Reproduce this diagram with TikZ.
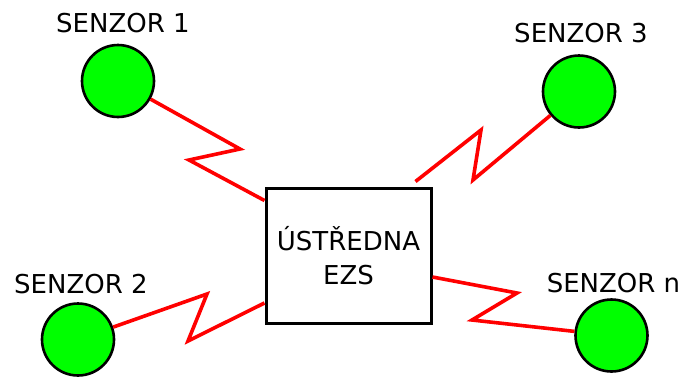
\documentclass[tikz,border=0pt]{standalone}
\usepackage{fontspec}
\setmainfont{DejaVu Sans}
\usetikzlibrary{positioning}

\begin{document}
\begin{tikzpicture}[x=1pt, y=-1pt,
    sensor/.style={circle, draw, line width=2.6pt, fill=green, minimum size=72pt, inner sep=0pt},
    hub/.style={rectangle, draw, line width=3pt, minimum width=165pt, minimum height=135pt,
        align=center, font=\fontsize{26}{34}\selectfont},
    tag/.style={anchor=base, inner sep=0pt, font=\fontsize{26}{30}\selectfont},
    radio/.style={red, line width=3.6pt}]
    \useasboundingbox (0,0) rectangle (685,376);

    % central unit
    \node[hub] (ezs) at (348.5,255.5) {ÚSTŘEDNA\\EZS};

    % sensors
    \node[sensor] (s1) at (118,81) {};
    \node[sensor] (s3) at (579,91.5) {};
    \node[sensor] (s2) at (78,339.5) {};
    \node[sensor] (sn) at (611.5,335.5) {};

    \node[tag] (l1) at (123,32) {SENZOR 1};
    \node[tag] (l3) at (581,42) {SENZOR 3};
    \node[tag] (l2) at (81,293) {SENZOR 2};
    \node[tag] (ln) at (613.5,292) {SENZOR n};

    % wireless links
    \draw[radio] (s1) -- (240,149) -- (189,160) -- ([yshift=-14pt]ezs.north west);
    \draw[radio] ([xshift=-17pt, yshift=5pt]ezs.north east) -- (481,130) -- (473,180) -- (s3);
    \draw[radio] (s2) -- (207,294) -- (188,341) -- ([yshift=-47.5pt]ezs.west);
    \draw[radio] ([yshift=-21.5pt]ezs.east) -- (517,293) -- (472,320) -- (sn);
\end{tikzpicture}
\end{document}
